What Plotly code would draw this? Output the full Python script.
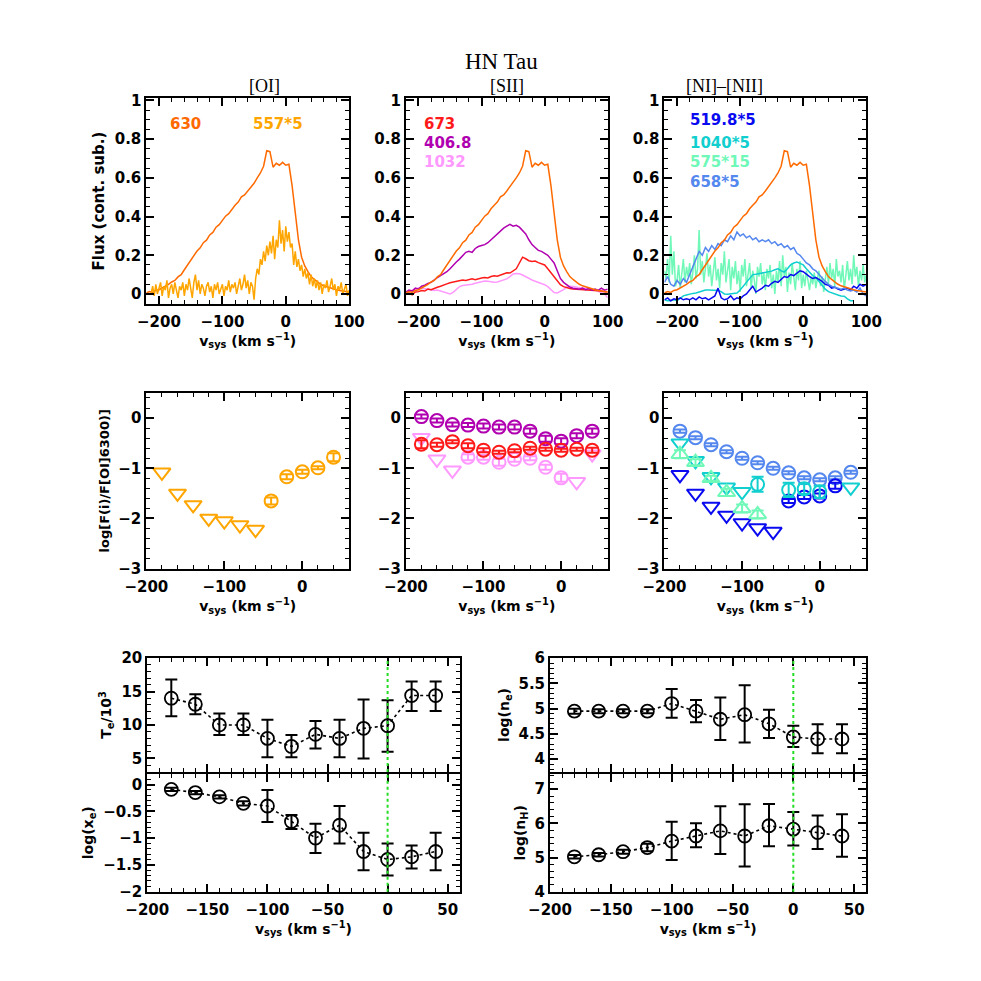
import plotly.graph_objects as go

# ---------------- data ----------------
# fine velocity grid (2.5 km/s) for the noisy lines, coarse (5 km/s) for the rest
V_FINE = [-220 + 2.5 * i for i in range(129)]
V_COARSE = [-220 + 5 * i for i in range(65)]

F_630 = [
    0.005, 0.012, 0.008, 0.018, 0.022, 0.03, 0.04, 0.05,
    0.062, 0.07, 0.088, 0.1, 0.125, 0.15, 0.178, 0.2,
    0.222, 0.238, 0.265, 0.278, 0.305, 0.318, 0.345, 0.358,
    0.38, 0.402, 0.415, 0.44, 0.458, 0.475, 0.502, 0.512,
    0.532, 0.555, 0.572, 0.6, 0.625, 0.66, 0.74, 0.735,
    0.655, 0.675, 0.665, 0.68, 0.665, 0.67, 0.56, 0.42,
    0.28, 0.19, 0.145, 0.115, 0.09, 0.075, 0.062, 0.05,
    0.042, 0.036, 0.03, 0.026, 0.022, 0.018, 0.015, 0.012,
    0.01,
]
F_557 = [
    None, None, None, 0.00, 0.04, -0.01, 0.05, 0.00,
    0.03, 0.06, -0.01, 0.04, 0.02, 0.07, -0.02, 0.03,
    0.05, 0.00, 0.06, 0.01, -0.02, 0.04, 0.02, 0.06,
    -0.01, 0.05, 0.02, 0.08, 0.03, -0.02, 0.06, 0.10,
    0.02, 0.07, 0.00, 0.05, 0.03, -0.01, 0.04, 0.06,
    0.01, 0.04, -0.02, 0.05, 0.02, 0.06, 0.00, 0.03,
    0.05, -0.01, 0.04, 0.02, 0.07, 0.01, 0.05, 0.03,
    0.06, 0.00, 0.04, 0.08, 0.02, 0.05, 0.10, 0.03,
    0.07, 0.00, 0.06, 0.04, -0.03, 0.08, 0.13, 0.10,
    0.18, 0.15, 0.22, 0.17, 0.25, 0.20, 0.27, 0.21,
    0.30, 0.18, 0.28, 0.24, 0.38, 0.26, 0.33, 0.22,
    0.35, 0.27, 0.32, 0.24, 0.26, 0.15, 0.22, 0.14,
    0.18, 0.12, 0.15, 0.09, 0.13, 0.08, 0.11, 0.05,
    0.10, 0.04, 0.08, 0.03, 0.07, 0.02, 0.06, 0.00,
    0.05, 0.03, 0.07, 0.01, 0.04, 0.08, 0.02, 0.05,
    -0.01, 0.04, 0.02, 0.06, 0.00, 0.03, 0.05, -0.01,
    0.02,
]
F_673 = [
    0.0, 0.005, -0.005, 0.01, 0.012, 0.018, 0.015, 0.025,
    0.022, 0.03, 0.035, 0.04, 0.048, 0.052, 0.058, 0.062,
    0.066, 0.068, 0.072, 0.07, 0.075, 0.078, 0.074, 0.08,
    0.082, 0.085, 0.083, 0.09, 0.094, 0.092, 0.098, 0.105,
    0.11, 0.108, 0.12, 0.13, 0.16, 0.19, 0.182, 0.172,
    0.168, 0.17, 0.162, 0.158, 0.15, 0.13, 0.11, 0.09,
    0.065, 0.048, 0.038, 0.032, 0.028, 0.026, 0.025, 0.022,
    0.024, 0.02, 0.022, 0.018, 0.02, 0.016, 0.015, 0.012,
    0.01,
]
F_4068 = [
    0.01, 0.02, 0.015, 0.03, 0.025, 0.04, 0.045, 0.055,
    0.06, 0.075, 0.085, 0.095, 0.105, 0.115, 0.13, 0.15,
    0.165, 0.18, 0.2, 0.215, 0.22, 0.215, 0.235, 0.245,
    0.25, 0.255, 0.265, 0.28, 0.3, 0.315, 0.33, 0.34,
    0.35, 0.36, 0.35, 0.355, 0.345, 0.33, 0.31, 0.28,
    0.255, 0.24, 0.225, 0.22, 0.21, 0.2, 0.18, 0.16,
    0.12, 0.08, 0.06, 0.045, 0.035, 0.03, 0.028, 0.025,
    0.03, 0.022, 0.028, 0.02, 0.025, 0.018, 0.03, 0.02,
    0.025,
]
F_1032 = [
    0.005, 0.012, 0.02, 0.028, 0.032, 0.03, 0.028, 0.024,
    0.02, 0.018, 0.02, 0.015, 0.008, 0.002, 0.0, 0.008,
    0.025, 0.038, 0.044, 0.046, 0.047, 0.05, 0.055, 0.06,
    0.065, 0.067, 0.066, 0.063, 0.06, 0.062, 0.066, 0.07,
    0.078, 0.09, 0.103, 0.106, 0.104, 0.098, 0.088, 0.08,
    0.072, 0.066, 0.06, 0.055, 0.048, 0.038, 0.02, 0.007,
    0.005, 0.012, 0.022, 0.035, 0.04, 0.038, 0.035, 0.032,
    0.03, 0.03, 0.028, 0.025, 0.02, 0.012, 0.006, 0.0,
    -0.02,
]
F_5198 = [
    -0.03, -0.02, -0.035, -0.025, -0.03, -0.02, -0.03, -0.025,
    -0.03, -0.02, -0.03, -0.015, -0.025, -0.02, -0.03, -0.02,
    -0.01, 0.03, -0.02, -0.03, -0.025, -0.01, -0.03, -0.02,
    -0.025, -0.01, 0.0, 0.02, 0.04, 0.01, 0.02, 0.03,
    0.045, 0.04, 0.055, 0.065, 0.06, 0.075, 0.09, 0.085,
    0.1, 0.095, 0.11, 0.12, 0.115, 0.1, 0.09, 0.08,
    0.085, 0.075, 0.065, 0.05, 0.045, 0.03, 0.035, 0.025,
    0.02, 0.025, 0.03, 0.02, 0.04, 0.03, 0.05, 0.04,
    0.05,
]
F_1040 = [
    -0.03, -0.035, -0.035, -0.03, -0.035, -0.02, -0.01, -0.005,
    0.0, 0.003, 0.005, 0.01, 0.015, 0.02, 0.02, 0.02,
    0.02, 0.018, 0.012, 0.0, -0.002, 0.0, 0.002, 0.005,
    0.02, 0.04, 0.06, 0.085, 0.1, 0.102, 0.105, 0.11,
    0.112, 0.115, 0.118, 0.125, 0.13, 0.12, 0.113, 0.13,
    0.15, 0.16, 0.165, 0.158, 0.15, 0.13, 0.11, 0.095,
    0.085, 0.065, 0.045, 0.025, 0.012, 0.005, 0.0, -0.005,
    -0.01, -0.012, -0.025, -0.035, -0.035, None, None, None,
    None,
]
F_575 = [
    0.12, 0.08, 0.18, 0.06, 0.30, 0.10, 0.22, 0.04,
    0.07, 0.15, 0.03, 0.12, 0.18, 0.06, 0.14, 0.09,
    0.16, 0.05, 0.11, 0.20, 0.08, 0.13, 0.33, 0.10,
    0.17, 0.06, 0.14, 0.21, 0.09, 0.15, 0.04, 0.12,
    0.19, 0.07, 0.13, 0.03, 0.16, 0.10, 0.22, 0.06,
    0.11, 0.18, 0.02, 0.14, 0.08, 0.17, 0.05, 0.12,
    0.01, 0.15, 0.09, 0.18, 0.04, 0.11, 0.16, 0.03,
    0.12, 0.07, 0.00, 0.14, 0.09, 0.16, 0.05, 0.11,
    0.02, 0.13, 0.08, 0.15, 0.03, 0.10, 0.00, 0.12,
    0.06, 0.17, 0.04, 0.20, 0.09, 0.14, 0.01, 0.11,
    0.05, 0.16, 0.08, 0.02, 0.13, 0.07, 0.17, 0.03,
    0.10, 0.04, 0.12, 0.06, 0.02, 0.09, 0.05, 0.11,
    0.03, 0.08, 0.12, 0.04, 0.09, 0.01, 0.07, 0.14,
    0.05, 0.16, 0.08, 0.13, 0.04, 0.18, 0.09, 0.12,
    0.06, 0.15, 0.02, 0.11, 0.17, 0.07, 0.13, 0.05,
    0.20, 0.09, 0.14, 0.04, 0.12, 0.07, 0.15, 0.06,
    0.10,
]
F_658 = [
    0.06, 0.09, 0.05, 0.04, 0.07, 0.05, 0.08, 0.06,
    0.1, 0.14, 0.17, 0.22, 0.2, 0.24, 0.22, 0.25,
    0.23, 0.26, 0.25, 0.28, 0.27, 0.3, 0.28, 0.32,
    0.3, 0.31, 0.29, 0.3, 0.28, 0.29, 0.27, 0.28,
    0.27, 0.28, 0.26, 0.27, 0.25, 0.26, 0.24, 0.25,
    0.23, 0.24, 0.21, 0.2, 0.18, 0.16, 0.15, 0.13,
    0.12, 0.1, 0.08, 0.065, 0.05, 0.04, 0.035, 0.03,
    0.025, 0.03, 0.02, 0.015, 0.02, 0.01, 0.03, 0.0,
    -0.01,
]

# line-ratio bins
VBIN = [-180, -160, -140, -120, -100, -80, -60, -40, -20, 0, 20, 40]

R557_LIM_V = [-180, -160, -140, -120, -100, -80, -60]
R557_LIM = [-1.08, -1.5, -1.73, -2.0, -2.05, -2.13, -2.22]
R557_V = [-40, -20, 0, 20, 40]
R557 = [-1.65, -1.17, -1.07, -0.99, -0.78]
R557_ERR = [0.07, 0.05, 0.04, 0.03, 0.08]

R4068 = [0.03, -0.05, -0.13, -0.14, -0.16, -0.18, -0.18, -0.26, -0.41, -0.46, -0.35, -0.26]
R4068_ERR = [0.04, 0.04, 0.04, 0.04, 0.05, 0.05, 0.05, 0.05, 0.06, 0.06, 0.05, 0.05]
R673 = [-0.52, -0.53, -0.47, -0.55, -0.64, -0.68, -0.65, -0.6, -0.62, -0.64, -0.62, -0.64]
R673_ERR = [0.08, 0.04, 0.03, 0.05, 0.04, 0.03, 0.03, 0.03, 0.03, 0.03, 0.03, 0.05]
R1032_LIM_V = [-180, -160, -140, 20, 40]
R1032_LIM = [-0.39, -0.82, -1.04, -1.27, -0.72]
R1032_V = [-120, -100, -80, -60, -40, -20, 0]
R1032 = [-0.78, -0.78, -0.88, -0.82, -0.8, -0.98, -1.19]
R1032_ERR = [0.06, 0.05, 0.07, 0.05, 0.04, 0.05, 0.08]

R658 = [-0.26, -0.39, -0.53, -0.67, -0.8, -0.89, -1.0, -1.09, -1.19, -1.23, -1.19, -1.08]
R658_ERR = [0.03] * 12
R5198_LIM_V = [-180, -160, -140, -120, -100, -80, -60]
R5198_LIM = [-1.13, -1.5, -1.76, -1.94, -2.09, -2.19, -2.26]
R5198_V = [-40, -20, 0, 20]
R5198 = [-1.65, -1.57, -1.55, -1.35]
R5198_ERR = [0.04, 0.04, 0.05, 0.06]
R1040_LIM_V = [-180, -160, -140, -120, -100, 40]
R1040_LIM = [-0.5, -0.85, -1.17, -1.38, -1.47, -1.38]
R1040_V = [-80, -40, -20, 0]
R1040 = [-1.32, -1.43, -1.41, -1.47]
R1040_ERR = [0.15, 0.14, 0.1, 0.12]
R575_V = [-180, -160, -140, -120, -100, -80]
R575 = [-0.72, -0.88, -1.2, -1.48, -1.8, -1.92]
R575_ERR = [0.08, 0.06, 0.05, 0.07, 0.08, 0.08]

# physical parameters
TE = [14.0, 13.1, 10.0, 10.0, 8.0, 6.8, 8.6, 8.0, 9.5, 9.9, 14.4, 14.4]
TE_HI = [16.8, 14.6, 11.7, 11.7, 10.8, 8.5, 10.6, 10.8, 13.8, 13.7, 16.5, 16.5]
TE_LO = [11.3, 11.6, 8.5, 8.5, 5.2, 5.2, 6.5, 5.2, 5.0, 6.0, 12.1, 12.1]
XE = [-0.09, -0.15, -0.23, -0.35, -0.4, -0.69, -1.0, -0.76, -1.25, -1.4, -1.35, -1.25]
XE_HI = [-0.06, -0.12, -0.2, -0.31, -0.1, -0.57, -0.73, -0.4, -0.9, -1.1, -1.14, -0.9]
XE_LO = [-0.12, -0.18, -0.26, -0.39, -0.7, -0.83, -1.28, -1.1, -1.6, -1.7, -1.57, -1.6]
NE = [4.95, 4.95, 4.95, 4.95, 5.1, 4.95, 4.79, 4.88, 4.7, 4.44, 4.4, 4.4]
NE_HI = [5.0, 4.99, 4.99, 4.99, 5.39, 5.17, 5.22, 5.46, 4.98, 4.66, 4.69, 4.69]
NE_LO = [4.9, 4.91, 4.91, 4.91, 4.82, 4.73, 4.38, 4.33, 4.42, 4.24, 4.12, 4.12]
NH = [5.02, 5.08, 5.17, 5.29, 5.48, 5.63, 5.78, 5.63, 5.93, 5.83, 5.73, 5.63]
NH_HI = [5.07, 5.13, 5.23, 5.4, 6.05, 6.0, 6.5, 6.56, 6.57, 6.33, 6.23, 6.27]
NH_LO = [4.97, 5.03, 5.11, 5.18, 4.93, 5.3, 5.1, 4.74, 5.33, 5.35, 5.25, 5.02]

C = {
    "630": "#FF6A00", "557": "#FFA500",
    "673": "#FF1A1A", "4068": "#B000B0", "1032": "#FF99FF",
    "5198": "#0A0AF0", "1040": "#12CFCF", "575": "#70F8B8", "658": "#5588EE",
}

W = H = 981
TICKFONT = dict(family="DejaVu Sans, Verdana, sans-serif", size=15, color="black", weight="bold")
TITLEFONT = dict(TICKFONT, size=14)
VLABEL = "v<sub>sys</sub> (km s<sup>\u22121</sup>)"

fig = go.Figure()

# panel pixel boxes: (left, right, top, bottom)
PANELS = {
    1: (121, 332, 83, 292), 2: (391, 601, 83, 292), 3: (660, 870, 83, 292),
    4: (121, 332, 383, 562), 5: (391, 601, 383, 562), 6: (660, 870, 383, 562),
    7: (122, 447, 653, 769), 8: (122, 447, 771, 891),
    9: (541, 870, 653, 769), 10: (541, 870, 771, 891),
}


def axis_pair(n, xr, xd, xm, yr, yd, ym, xlabels=True, xtitle=None, ytitle=None, ytsize=14):
    l, r, t, b = PANELS[n]
    s = "" if n == 1 else str(n)
    common = dict(ticks="inside", tickcolor="black", tickwidth=1.6, showline=True,
                  linecolor="black", linewidth=2, mirror="allticks", showgrid=False,
                  zeroline=False, tickfont=TICKFONT, tick0=0, ticklen=8)
    fig.layout["xaxis" + s] = dict(
        common, domain=[l / W, r / W], range=xr, dtick=xd, anchor="y" + s,
        minor=dict(dtick=xm, tick0=0, ticks="inside", ticklen=4, tickcolor="black", tickwidth=1.3),
        showticklabels=xlabels, ticklabelstandoff=3,
        title=dict(text=xtitle, font=TITLEFONT, standoff=2) if xtitle else None)
    fig.layout["yaxis" + s] = dict(
        common, domain=[1 - b / W, 1 - t / W], range=yr, dtick=yd, anchor="x" + s,
        minor=dict(dtick=ym, tick0=0, ticks="inside", ticklen=4, tickcolor="black", tickwidth=1.3),
        title=dict(text=ytitle, font=dict(TITLEFONT, size=ytsize), standoff=6) if ytitle else None)
    return "x" + s, "y" + s


def line(ax, x, y, color, width=1.5):
    fig.add_trace(go.Scatter(x=x, y=y, mode="lines", xaxis=ax[0], yaxis=ax[1],
                             line=dict(color=color, width=width), showlegend=False,
                             connectgaps=False))


def pts(ax, x, y, color, symbol="circle-open", err=None, size=13):
    fig.add_trace(go.Scatter(
        x=x, y=y, mode="markers", xaxis=ax[0], yaxis=ax[1], showlegend=False,
        marker=dict(symbol=symbol, size=size, color=color, line=dict(color=color, width=2)),
        error_y=dict(type="data", array=err, color=color, thickness=2, width=6) if err else None))


# ---- top row: spectra ----
a1 = axis_pair(1, [-220, 100], 100, 20, [-0.05, 1.01], 0.2, 0.05, xtitle=VLABEL, ytitle="Flux (cont. sub.)", ytsize=15)
a2 = axis_pair(2, [-220, 100], 100, 20, [-0.05, 1.01], 0.2, 0.05, xtitle=VLABEL)
a3 = axis_pair(3, [-220, 100], 100, 20, [-0.05, 1.01], 0.2, 0.05, xtitle=VLABEL)

line(a1, V_COARSE, F_630, C["630"])
line(a1, V_FINE, F_557, C["557"])

line(a2, V_COARSE, F_1032, C["1032"])
line(a2, V_COARSE, F_673, C["673"])
line(a2, V_COARSE, F_4068, C["4068"])
line(a2, V_COARSE, F_630, C["630"])

line(a3, V_FINE, F_575, C["575"])
line(a3, V_COARSE, F_1040, C["1040"])
line(a3, V_COARSE, F_5198, C["5198"])
line(a3, V_COARSE, F_658, C["658"])
line(a3, V_COARSE, F_630, C["630"])

LABELS = [
    (a1, -158, 0.88, "630", C["630"], "center"),
    (a1, -12, 0.88, "557*5", C["557"], "center"),
    (a2, -195, 0.88, "673", C["673"], "left"),
    (a2, -195, 0.78, "406.8", C["4068"], "left"),
    (a2, -195, 0.68, "1032", C["1032"], "left"),
    (a3, -182, 0.9, "519.8*5", C["5198"], "left"),
    (a3, -182, 0.78, "1040*5", C["1040"], "left"),
    (a3, -182, 0.68, "575*15", C["575"], "left"),
    (a3, -182, 0.58, "658*5", C["658"], "left"),
]
for ax, x, y, txt, col, al in LABELS:
    fig.add_annotation(x=x, y=y, xref=ax[0], yref=ax[1], text=txt, showarrow=False,
                       xanchor=al, font=dict(TICKFONT, color=col, size=15))

# ---- middle row: line ratios ----
b1 = axis_pair(4, [-200, 60], 100, 20, [-3, 0.5], 1, 0.2, xtitle=VLABEL, ytitle="log[F(i)/F[OI]6300)]", ytsize=13)
b2 = axis_pair(5, [-200, 60], 100, 20, [-3, 0.5], 1, 0.2, xtitle=VLABEL)
b3 = axis_pair(6, [-200, 60], 100, 20, [-3, 0.5], 1, 0.2, xtitle=VLABEL)

pts(b1, R557_LIM_V, R557_LIM, C["557"], "triangle-down-open", size=15)
pts(b1, R557_V, R557, C["557"], err=R557_ERR)

pts(b2, VBIN, R4068, C["4068"], err=R4068_ERR)
pts(b2, R1032_LIM_V, R1032_LIM, C["1032"], "triangle-down-open", size=15)
pts(b2, R1032_V, R1032, C["1032"], err=R1032_ERR)
pts(b2, VBIN, R673, C["673"], err=R673_ERR)

pts(b3, VBIN, R658, C["658"], err=R658_ERR)
pts(b3, R5198_LIM_V, R5198_LIM, C["5198"], "triangle-down-open", size=15)
pts(b3, R5198_V, R5198, C["5198"], err=R5198_ERR)
pts(b3, R1040_LIM_V, R1040_LIM, C["1040"], "triangle-down-open", size=15)
pts(b3, R575_V, R575, C["575"], "triangle-up-open", err=R575_ERR, size=15)
pts(b3, R1040_V, R1040, C["1040"], err=R1040_ERR)

# ---- bottom: physical parameters ----
c1 = axis_pair(7, [-200, 60], 50, 10, [3, 20], 5, 1, xlabels=False, ytitle="T<sub>e</sub>/10<sup>3</sup>")
c2 = axis_pair(8, [-200, 60], 50, 10, [-2, 0.2], 0.5, 0.1, xtitle=VLABEL, ytitle="log(x<sub>e</sub>)")
c3 = axis_pair(9, [-200, 60], 50, 10, [3.75, 6], 0.5, 0.1, xlabels=False, ytitle="log(n<sub>e</sub>)")
c4 = axis_pair(10, [-200, 60], 50, 10, [4, 7.45], 1, 0.2, xtitle=VLABEL, ytitle="log(n<sub>H</sub>)")

for ax, val, hi, lo in [(c1, TE, TE_HI, TE_LO), (c2, XE, XE_HI, XE_LO),
                        (c3, NE, NE_HI, NE_LO), (c4, NH, NH_HI, NH_LO)]:
    fig.add_shape(type="line", xref=ax[0], yref=ax[1] + " domain", x0=0, x1=0, y0=0, y1=1,
                  line=dict(color="#22DD22", width=2, dash="dot"))
    fig.add_trace(go.Scatter(
        x=VBIN, y=val, mode="lines+markers", xaxis=ax[0], yaxis=ax[1], showlegend=False,
        line=dict(color="black", width=1.6, dash="dot"),
        marker=dict(symbol="circle-open", size=13, color="black", line=dict(color="black", width=1.8)),
        error_y=dict(type="data", symmetric=False,
                     array=[h - v for h, v in zip(hi, val)],
                     arrayminus=[v - l for v, l in zip(val, lo)],
                     color="black", thickness=2, width=6)))

# ---- titles ----
SERIF = dict(family="Liberation Serif, DejaVu Serif, serif", color="black")
fig.add_annotation(x=490 / W, y=1 - 31 / H, xref="paper", yref="paper", text="HN Tau",
                   showarrow=False, font=dict(SERIF, size=23))
for xc, txt in [(226, "[OI]"), (496, "[SII]"), (765, "[NI]\u2013[NII]")]:
    fig.add_annotation(x=xc / W, y=1 - 58 / H, xref="paper", yref="paper", text=txt,
                       showarrow=False, font=dict(SERIF, size=18))

fig.update_layout(width=W, height=H, margin=dict(l=0, r=0, t=0, b=0),
                  paper_bgcolor="white", plot_bgcolor="white", showlegend=False)

fig.write_html("out.html")
